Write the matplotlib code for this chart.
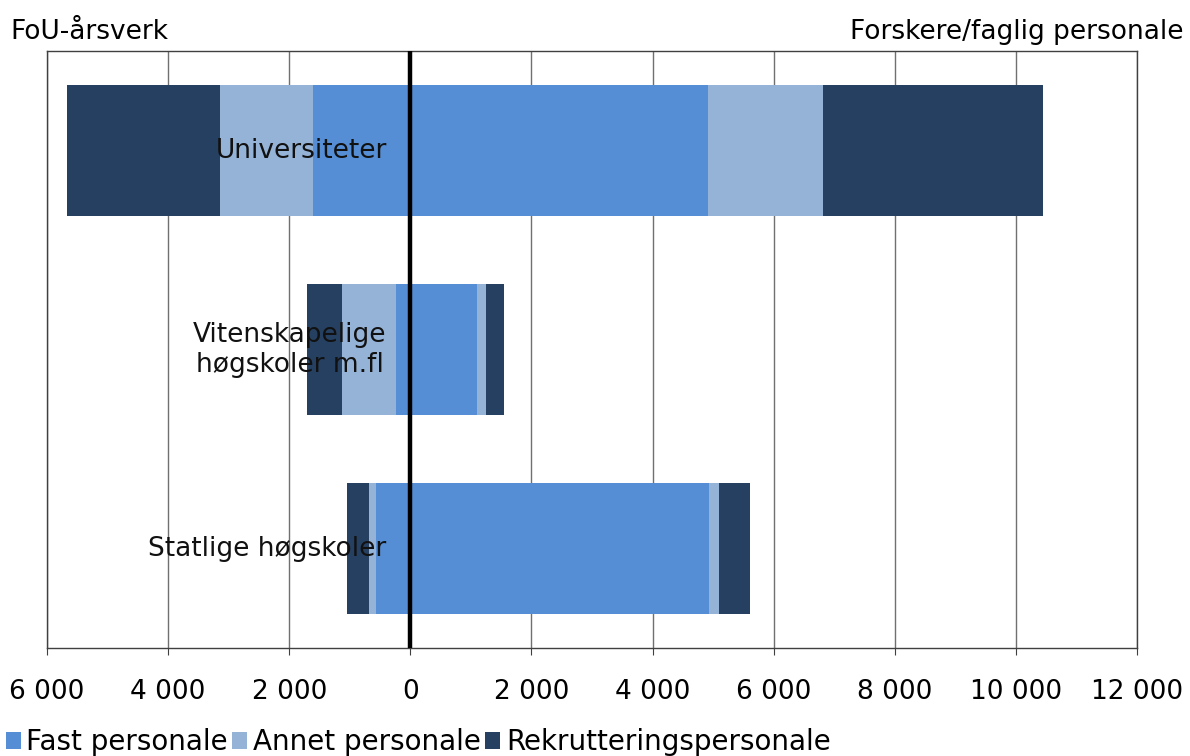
import matplotlib
matplotlib.use("Agg")
import matplotlib.pyplot as plt
import numpy as np
from matplotlib.ticker import FuncFormatter

# Data
categories = ["Universiteter", "Vitenskapelige\nhøgskoler m.fl", "Statlige høgskoler"]
series_names = ["Fast personale", "Annet personale", "Rekrutteringspersonale"]

# Left side: FoU-årsverk
fou_fast = [1600, 240, 570]
fou_annet = [1540, 890, 120]
fou_rekrut = [2530, 570, 360]

# Right side: Forskere/faglig personale
fag_fast = [4910, 1100, 4930]
fag_annet = [1910, 150, 165]
fag_rekrut = [3620, 290, 510]

x_ticks = [-6000, -4000, -2000, 0, 2000, 4000, 6000, 8000, 10000, 12000]

colors = ["#558ED5", "#95B3D7", "#254061"]

plt.rcParams['font.family'] = ['DejaVu Sans']

fig = plt.figure(figsize=(11.9, 7.56), dpi=100)
ax = fig.add_axes([47/1190, 1-648/756, (1137-47)/1190, (648-51)/756])

y = np.arange(len(categories))
height = 0.66

# Left (negative) stacks and right stacks
left_series = [fou_fast, fou_annet, fou_rekrut]
right_series = [fag_fast, fag_annet, fag_rekrut]

start = np.zeros(len(categories))
for vals, color in zip(left_series, colors):
    vals = np.array(vals)
    ax.barh(y, -vals, left=-start, height=height, color=color, zorder=2)
    start += vals

start = np.zeros(len(categories))
for vals, color, name in zip(right_series, colors, series_names):
    vals = np.array(vals)
    ax.barh(y, vals, left=start, height=height, color=color, zorder=2, label=name)
    start += vals

# Zero line
ax.axvline(0, color="black", lw=3.2, zorder=4)

# Category labels on the chart
for yi, cat in zip(y, categories):
    ax.text(-390, yi, cat, ha="right", va="center", fontsize=19,
            multialignment="center", color="#111111", zorder=5)

ax.set_xlim(-6000, 12000)
ax.set_ylim(len(categories) - 0.5, -0.5)
ax.set_xticks(x_ticks)
ax.xaxis.set_major_formatter(FuncFormatter(lambda v, p: f"{abs(int(v)):,}".replace(",", " ")))
ax.tick_params(axis="x", labelsize=19, length=5, pad=17, color="#404040")
ax.set_yticks([])
ax.grid(axis="x", color="#707070", lw=1, zorder=0)

for side in ["top", "bottom", "left", "right"]:
    ax.spines[side].set_color("#404040")
    ax.spines[side].set_linewidth(1)

# Side headers
fig.text(10/1190, 1-32/756, "FoU-årsverk", ha="left", va="center", fontsize=19)
fig.text(1183/1190, 1-32/756, "Forskere/faglig personale", ha="right", va="center", fontsize=19)

# Legend
fig.legend(loc="center left", bbox_to_anchor=(0.0, 1-742/756), ncol=3, frameon=False,
           fontsize=20, handlelength=0.55, handleheight=0.55, handletextpad=0.2,
           columnspacing=0.15, borderaxespad=0, borderpad=0.2)

fig.savefig("out.png", dpi=100)
